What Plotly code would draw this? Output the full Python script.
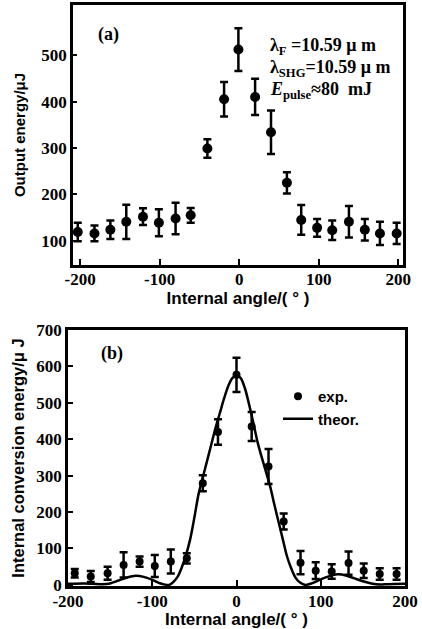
import plotly.graph_objects as go

# ---- panel (a) data ----
angle_a = [-203, -182, -162, -142, -121, -101, -80, -61, -40, -19, -1, 20, 40, 60, 78, 98, 117, 138, 158, 177, 198]
energy_a = [119, 116, 124, 141, 152, 139, 148, 155, 299, 405, 512, 410, 334, 225, 145, 128, 123, 141, 124, 116, 116]
err_a = [20, 17, 20, 37, 18, 29, 34, 16, 20, 37, 46, 39, 47, 23, 32, 19, 21, 34, 23, 25, 23]

# ---- panel (b) data ----
angle_b = [-192, -173, -153, -134, -115, -97, -78, -59, -40, -22, 0, 18, 38, 56, 76, 94, 113, 133, 151, 170, 190]
energy_b = [32, 23, 32, 55, 64, 52, 64, 73, 279, 420, 577, 435, 325, 174, 61, 39, 37, 60, 39, 30, 30]
err_b = [12, 15, 18, 35, 14, 30, 33, 14, 22, 35, 47, 40, 48, 22, 32, 23, 20, 32, 20, 16, 16]

# theory curve
theor_x = [-200, -180, -160, -150, -140, -130, -120, -110, -100, -90, -80, -75, -70, -65, -60, -55, -50, -45,
           -40, -35, -30, -25, -20, -15, -10, -5, 0, 5, 10, 15, 20, 25, 30, 35, 40, 45, 50, 55, 60, 65, 70,
           75, 82, 90, 100, 110, 120, 130, 140, 150, 160, 170, 180, 200]
theor_y = [3, 4, 2, 4, 12, 20, 25, 22, 14, 4, 0, 8, 22, 48, 82, 125, 185, 250,
           295, 340, 385, 430, 470, 510, 545, 568, 575, 568, 540, 495, 445, 392, 350, 310, 270, 220, 172, 125, 78, 45, 20,
           7, 0, 5, 15, 24, 29, 26, 18, 10, 4, 1, 2, 3]

ticks_x = [-200, -100, 0, 100, 200]
ticks_x_text = ["-200", "-100", "0", "100", "200"]
ticks_ya = [100, 200, 300, 400, 500]
ticks_yb = [0, 100, 200, 300, 400, 500, 600, 700]

W, H = 422, 629
def px_x(p): return p / W
def px_y(p): return 1 - p / H

black = "black"
tickfont = dict(family="Liberation Serif", size=17, color=black, weight="bold")
def tfont(s): return dict(family="Liberation Sans", size=s, color=black, weight="bold")
notefont = dict(family="Liberation Serif", size=18, color=black, weight="bold")

fig = go.Figure()

fig.add_trace(go.Scatter(
    x=angle_a, y=energy_a, mode="markers", xaxis="x", yaxis="y",
    marker=dict(color=black, size=10, symbol="circle"),
    error_y=dict(type="data", array=err_a, color=black, thickness=2.5, width=4),
    showlegend=False))

fig.add_trace(go.Scatter(
    x=theor_x, y=theor_y, mode="lines", xaxis="x2", yaxis="y2", name="theor.",
    line=dict(color=black, width=2.5, shape="spline", smoothing=0.8)))

fig.add_trace(go.Scatter(
    x=angle_b, y=energy_b, mode="markers", xaxis="x2", yaxis="y2", name="exp.",
    marker=dict(color=black, size=8, symbol="circle"),
    error_y=dict(type="data", array=err_b, color=black, thickness=2.5, width=4)))

axis_common = dict(showgrid=False, zeroline=False, showline=True, linecolor=black, linewidth=2.5,
                   mirror=True, ticks="inside", tickcolor=black, tickwidth=2, tickfont=tickfont,
                   automargin=False)

fig.update_layout(
    width=W, height=H,
    margin=dict(l=0, r=0, t=0, b=0),
    paper_bgcolor="white", plot_bgcolor="white",
    xaxis=dict(axis_common, domain=[px_x(73), px_x(403)], range=[-209, 206], anchor="y",
               tickvals=ticks_x, ticktext=ticks_x_text, ticklen=6, ticklabelstandoff=-3,
               title=dict(text="Internal angle/( ° )", font=tfont(17), standoff=3)),
    yaxis=dict(axis_common, domain=[px_y(265), px_y(5)], range=[48, 608], anchor="x",
               tickvals=ticks_ya, ticklen=4,
               title=dict(text="Output energy/μJ", font=tfont(15), standoff=13)),
    xaxis2=dict(axis_common, domain=[px_x(68), px_x(405)], range=[-200, 200], anchor="y2",
                tickvals=ticks_x, ticktext=ticks_x_text, ticklen=6, ticklabelstandoff=-2,
                title=dict(text="Internal angle/( ° )", font=tfont(17), standoff=0)),
    yaxis2=dict(axis_common, domain=[px_y(586), px_y(330)], range=[-3, 700], anchor="x2",
                tickvals=ticks_yb, ticklen=5,
                title=dict(text="Internal conversion energy/μ J", font=tfont(16.5), standoff=8)),
    legend=dict(x=px_x(278), y=px_y(380), xanchor="left", yanchor="top",
                font=dict(family="Liberation Sans", size=15, color=black, weight="bold"),
                bgcolor="rgba(0,0,0,0)", itemwidth=30, tracegroupgap=0,
                traceorder="reversed"),
    annotations=[
        dict(text="(a)", x=px_x(96), y=px_y(34), xref="paper", yref="paper", xanchor="left",
             yanchor="middle", showarrow=False, font=notefont),
        dict(text="(b)", x=px_x(99), y=px_y(353), xref="paper", yref="paper", xanchor="left",
             yanchor="middle", showarrow=False, font=notefont),
        dict(text="λ<sub>F</sub> =10.59 μ m", x=px_x(268), y=px_y(46), xref="paper", yref="paper",
             xanchor="left", yanchor="middle", showarrow=False, font=notefont),
        dict(text="λ<sub>SHG</sub>=10.59 μ m", x=px_x(268), y=px_y(68), xref="paper", yref="paper",
             xanchor="left", yanchor="middle", showarrow=False, font=notefont),
        dict(text="<i>E</i><sub>pulse</sub>≈80  mJ", x=px_x(268), y=px_y(91), xref="paper", yref="paper",
             xanchor="left", yanchor="middle", showarrow=False, font=notefont),
    ],
)

fig.write_html("out.html", config={"displayModeBar": False},
               post_script="document.body.style.margin='0';")
